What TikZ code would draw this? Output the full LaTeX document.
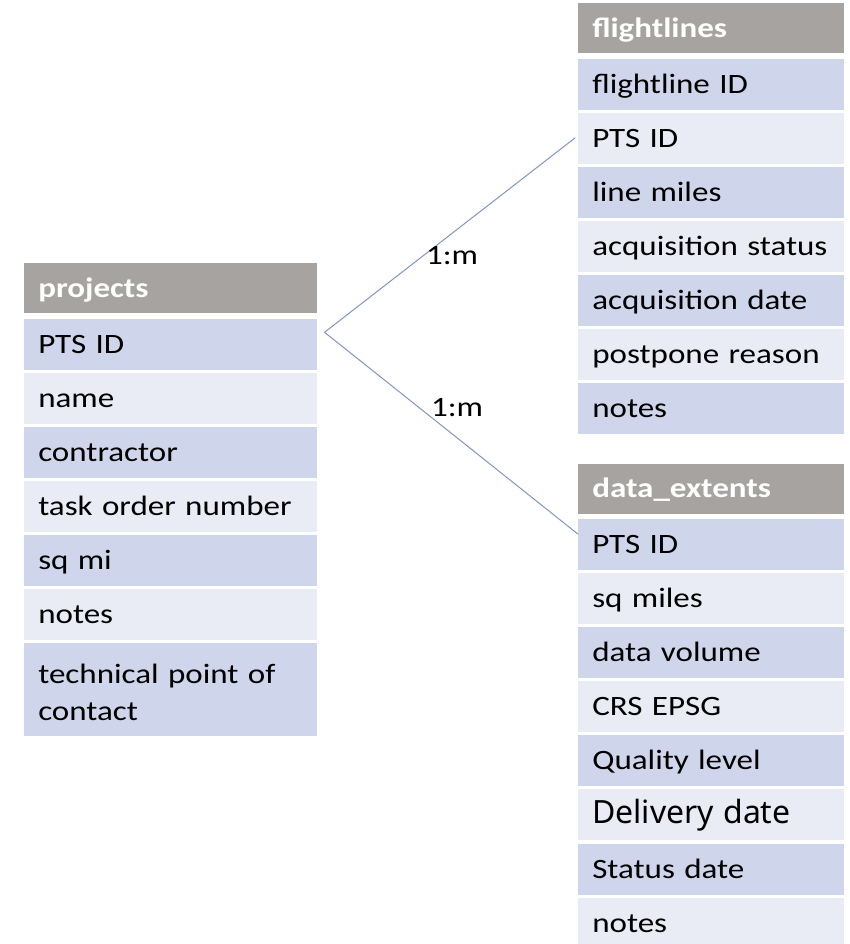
\documentclass[tikz,border=0pt]{standalone}
\usepackage{fontspec}
\setmainfont{Carlito}[FakeStretch=1.18]
\newfontfamily\delivfont{Noto Sans}
\usetikzlibrary{positioning,calc}
\definecolor{hdrgray}{RGB}{167,163,160}
\definecolor{rowdark}{RGB}{207,213,234}
\definecolor{rowlight}{RGB}{233,235,245}
\definecolor{linkblue}{RGB}{128,150,194}
\tikzset{
  cell/.style  = {inner xsep=10.5pt, inner ysep=0pt, align=left,
                  text height=17pt, text depth=3.5pt, minimum height=38.25pt,
                  font=\fontsize{21}{27.75}\selectfont},
  hdr/.style   = {cell, fill=hdrgray, text=white, minimum height=37.5pt,
                  font=\fontsize{21}{27.75}\selectfont\bfseries},
  rowd/.style  = {cell, fill=rowdark},
  rowl/.style  = {cell, fill=rowlight},
  rel/.style   = {draw=linkblue, line width=0.75pt},
  card/.style  = {inner sep=0pt, font=\fontsize{21}{27.75}\selectfont},
}
\begin{document}
\begin{tikzpicture}[x=0.75pt, y=-0.75pt]
  \useasboundingbox[fill=white] (0,0) rectangle (849,944);

  % projects
  \begin{scope}[every node/.append style={text width=198.75pt}]
    \node[hdr, anchor=north west] (pHead) at (24,263) {projects};
    \node[rowd, below=3.75pt of pHead] (pPts) {PTS ID};
    \node[rowl, below=1.875pt of pPts] (pName) {name};
    \node[rowd, below=1.875pt of pName] (pContr) {contractor};
    \node[rowl, below=1.875pt of pContr] (pTask) {task order number};
    \node[rowd, below=1.875pt of pTask] (pSq) {sq mi};
    \node[rowl, below=1.875pt of pSq] (pNotes) {notes};
    \node[rowd, below=1.875pt of pNotes, minimum height=70.1pt,
          text depth=26pt] (pTech) {technical point of\\contact};
  \end{scope}

  % flightlines
  \begin{scope}[every node/.append style={text width=178.5pt}]
    \node[hdr, anchor=north west] (fHead) at (578,3) {flightlines};
    \node[rowd, below=3.75pt of fHead] (fId) {flightline ID};
    \node[rowl, below=1.875pt of fId] (fPts) {PTS ID};
    \node[rowd, below=1.875pt of fPts] (fMiles) {line miles};
    \node[rowl, below=1.875pt of fMiles] (fStat) {acquisition status};
    \node[rowd, below=1.875pt of fStat] (fDate) {acquisition date};
    \node[rowl, below=1.875pt of fDate] (fReason) {postpone reason};
    \node[rowd, below=1.875pt of fReason] (fNotes) {notes};
  \end{scope}

  % data_extents
  \begin{scope}[every node/.append style={text width=178.5pt}]
    \node[hdr, anchor=north west] (dHead) at (578,463.5) {data\_extents};
    \node[rowd, below=3.75pt of dHead] (dPts) {PTS ID};
    \node[rowl, below=1.875pt of dPts] (dSq) {sq miles};
    \node[rowd, below=1.875pt of dSq] (dVol) {data volume};
    \node[rowl, below=1.875pt of dVol] (dCrs) {CRS EPSG};
    \node[rowd, below=1.875pt of dCrs] (dQual) {Quality level};
    \node[rowl, below=1.875pt of dQual] (dDeliv)
      {\delivfont\fontsize{24}{28}\selectfont Delivery date};
    \node[rowd, below=1.875pt of dDeliv] (dStat) {Status date};
    \node[rowl, below=1.875pt of dStat] (dNotes) {notes};
  \end{scope}

  % relationships
  \coordinate (fork) at ($(pPts.east)+(5.25pt,9pt)$);
  \draw[rel] (fork) -- ($(fPts.west)+(-2pt,0.5pt)$);
  \draw[rel] (fork) -- ($(dPts.west)+(0pt,8pt)$);
  \node[card] (card1) at (452,256) {1:m};
  \node[card] (card2) at (457,408) {1:m};
\end{tikzpicture}
\end{document}
